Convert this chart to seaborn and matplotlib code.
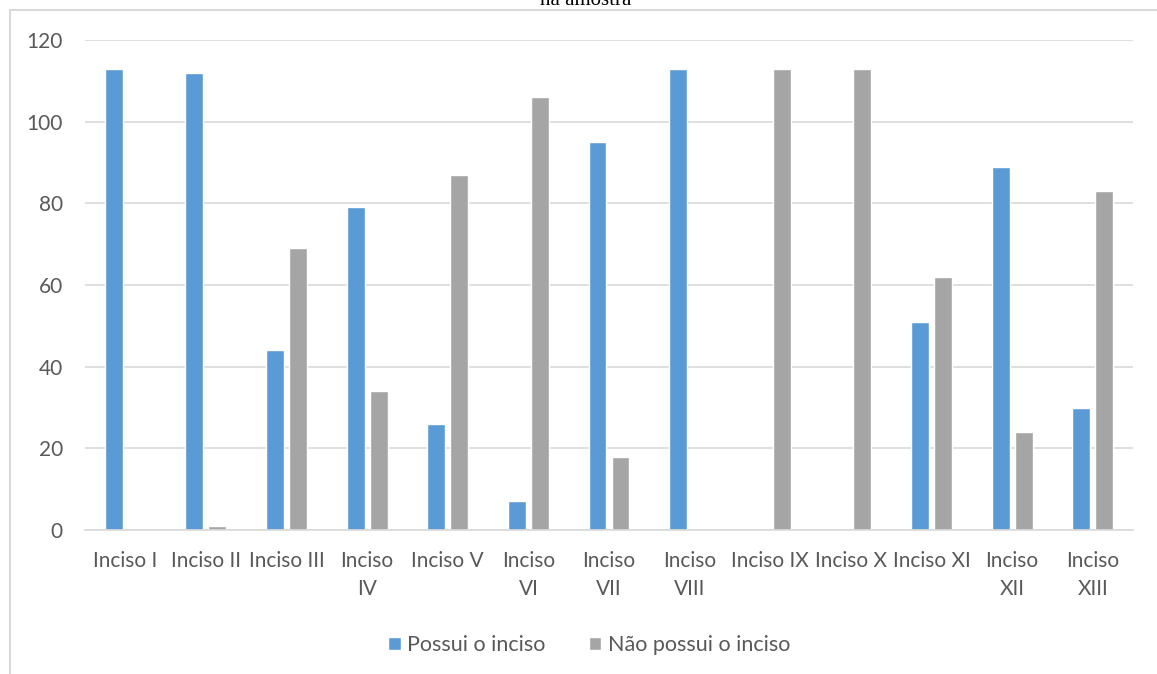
import matplotlib
matplotlib.use("Agg")
import matplotlib.pyplot as plt
import seaborn as sns
import pandas as pd
from matplotlib.patches import Rectangle

categories = ["Inciso I", "Inciso II", "Inciso III", "Inciso\nIV", "Inciso V", "Inciso\nVI",
              "Inciso\nVII", "Inciso\nVIII", "Inciso IX", "Inciso X", "Inciso XI", "Inciso\nXII",
              "Inciso\nXIII"]
possui = [113, 112, 44, 79, 26, 7, 95, 113, 0, 0, 51, 89, 30]
nao_possui = [0, 1, 69, 34, 87, 106, 18, 0, 113, 113, 62, 24, 83]
series_names = ["Possui o inciso", "Não possui o inciso"]
colors = ["#5B9BD5", "#A5A5A5"]
yticks = [0, 20, 40, 60, 80, 100, 120]

df = pd.DataFrame({
    "cat": categories * 2,
    "value": possui + nao_possui,
    "serie": [series_names[0]] * len(categories) + [series_names[1]] * len(categories),
})

sns.set_theme(style="white")
plt.rcParams['font.family'] = ['Lato', 'DejaVu Sans']

fig = plt.figure(figsize=(11.57, 6.74), dpi=100)
ax = fig.add_axes([85/1157, 1 - 530/674, (1133-85)/1157, (530-40)/674])

sns.barplot(data=df, x="cat", y="value", hue="serie", palette=colors, ax=ax,
            width=0.57, gap=0.22, errorbar=None, saturation=1, legend=True)

ax.set_ylim(0, 120)
ax.set_xlim(-0.5, len(categories) - 0.5)
ax.set_yticks(yticks)
ax.yaxis.grid(True, color="#D9D9D9", linewidth=1.2)
ax.set_axisbelow(True)
for s in ["top", "right", "left"]:
    ax.spines[s].set_visible(False)
ax.spines["bottom"].set_color("#D9D9D9")
ax.spines["bottom"].set_linewidth(1.2)
ax.set_xlabel("")
ax.set_ylabel("")
ax.tick_params(axis="both", length=0, colors="#595959", labelsize=15)
ax.tick_params(axis="y", pad=16)
ax.tick_params(axis="x", pad=15)
for lbl in ax.get_xticklabels():
    lbl.set_linespacing(1.5)

ax.legend(loc="center", bbox_to_anchor=(589/1157, 1 - 645/674), bbox_transform=fig.transFigure,
          ncol=2, frameon=False, fontsize=15.5, handlelength=0.6, handleheight=0.6,
          columnspacing=2.0, handletextpad=0.3, labelcolor="#595959")

# outer chart frame (cut at right and bottom)
fig.patches.append(Rectangle((10/1157, -0.1), 1.2, 1 - 10/674 + 0.1, transform=fig.transFigure,
                             fill=False, edgecolor="#D9D9D9", linewidth=1.5))

fig.text(586/1157, 1 - 5/674, "na amostra", ha="center", va="baseline",
         fontsize=15, family="Liberation Serif", color="black")

fig.savefig("out.png", dpi=100)
